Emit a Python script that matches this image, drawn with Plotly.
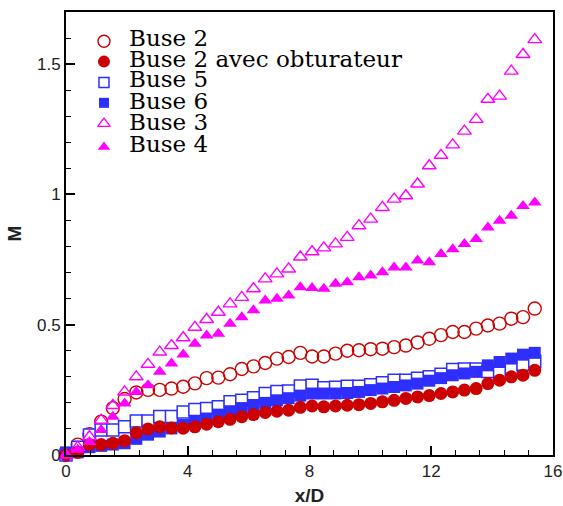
import plotly.graph_objects as go

# x/D stations (shared by all nozzles)
x_d = [0.0, 0.385, 0.77, 1.155, 1.54, 1.925, 2.31, 2.695, 3.08, 3.465, 3.85,
       4.235, 4.62, 5.005, 5.39, 5.775, 6.16, 6.545, 6.93, 7.315, 7.7,
       8.085, 8.47, 8.855, 9.24, 9.625, 10.01, 10.395, 10.78, 11.165, 11.55,
       11.935, 12.32, 12.705, 13.09, 13.475, 13.86, 14.245, 14.63, 15.015, 15.4]

buse2 = [0.0, 0.04, 0.08, 0.128, 0.18, 0.215, 0.24, 0.25, 0.25, 0.255, 0.262,
         0.275, 0.295, 0.297, 0.31, 0.33, 0.34, 0.353, 0.37, 0.376, 0.392,
         0.378, 0.378, 0.389, 0.4, 0.402, 0.406, 0.408, 0.414, 0.42, 0.432,
         0.446, 0.46, 0.472, 0.472, 0.485, 0.497, 0.504, 0.523, 0.529, 0.562]

buse2_obt = [0.0, 0.01, 0.04, 0.04, 0.045, 0.055, 0.085, 0.1, 0.108, 0.104, 0.103,
             0.108, 0.118, 0.128, 0.137, 0.147, 0.155, 0.163, 0.168, 0.172, 0.183,
             0.188, 0.185, 0.188, 0.191, 0.193, 0.198, 0.204, 0.21, 0.217, 0.223,
             0.228, 0.236, 0.242, 0.249, 0.255, 0.274, 0.287, 0.30, 0.306, 0.325]

buse5 = [0.0, 0.03, 0.077, 0.096, 0.096, 0.108, 0.13, 0.13, 0.148, 0.148, 0.165,
         0.175, 0.178, 0.185, 0.204, 0.21, 0.22, 0.236, 0.244, 0.246, 0.265,
         0.268, 0.258, 0.26, 0.264, 0.264, 0.27, 0.277, 0.287, 0.287, 0.295,
         0.30, 0.31, 0.328, 0.33, 0.33, 0.32, 0.315, 0.33, 0.348, 0.36]

buse6 = [0.01, 0.01, 0.03, 0.035, 0.04, 0.045, 0.062, 0.078, 0.09, 0.102, 0.115,
         0.128, 0.14, 0.155, 0.168, 0.18, 0.192, 0.2, 0.21, 0.218, 0.228,
         0.236, 0.236, 0.236, 0.238, 0.242, 0.249, 0.255, 0.261, 0.267, 0.274,
         0.285, 0.295, 0.306, 0.313, 0.319, 0.344, 0.357, 0.37, 0.385, 0.392]

buse3 = [0.0, 0.03, 0.07, 0.134, 0.19, 0.242, 0.30, 0.348, 0.395, 0.42, 0.45,
         0.49, 0.52, 0.548, 0.58, 0.605, 0.638, 0.676, 0.695, 0.714, 0.76,
         0.78, 0.795, 0.81, 0.835, 0.88, 0.905, 0.95, 0.982, 0.995, 1.04,
         1.11, 1.15, 1.19, 1.243, 1.288, 1.365, 1.377, 1.473, 1.537, 1.594]

buse4 = [0.0, 0.02, 0.05, 0.096, 0.147, 0.198, 0.242, 0.268, 0.319, 0.351, 0.386,
         0.427, 0.459, 0.465, 0.504, 0.529, 0.555, 0.593, 0.6, 0.612, 0.644,
         0.641, 0.638, 0.657, 0.663, 0.682, 0.689, 0.701, 0.72, 0.72, 0.746,
         0.74, 0.771, 0.79, 0.81, 0.829, 0.873, 0.899, 0.918, 0.956, 0.969]

legend_labels = ["Buse 2", "Buse 2 avec obturateur", "Buse 5", "Buse 6", "Buse 3", "Buse 4"]

RED = "#CC0000"
BLUE = "#2E2EFF"
MAG = "#FF00FF"

styles = {
    "Buse 2": dict(symbol="circle-open", size=13, color=RED, line=dict(color=RED, width=1.4)),
    "Buse 2 avec obturateur": dict(symbol="circle", size=13, color=RED, line=dict(width=0)),
    "Buse 5": dict(symbol="square", size=12, color="white", line=dict(color=BLUE, width=1.5)),
    "Buse 6": dict(symbol="square", size=12, color=BLUE, line=dict(width=0)),
    "Buse 3": dict(symbol="triangle-up-open", size=12, color=MAG, line=dict(color=MAG, width=1.4)),
    "Buse 4": dict(symbol="triangle-up", size=12, color=MAG, line=dict(width=0)),
}
series = {
    "Buse 2": buse2, "Buse 2 avec obturateur": buse2_obt, "Buse 5": buse5,
    "Buse 6": buse6, "Buse 3": buse3, "Buse 4": buse4,
}
draw_order = ["Buse 2", "Buse 5", "Buse 6", "Buse 2 avec obturateur", "Buse 3", "Buse 4"]

fig = go.Figure()
for name in draw_order:
    fig.add_trace(go.Scatter(x=x_d, y=series[name], mode="markers", name=name,
                             marker=styles[name], cliponaxis=False, showlegend=False))

# Manual legend (tight line spacing like the original)
leg_x_marker = 0.078
leg_x_text = 0.125
leg_rows_marker = [0.934, 0.888, 0.841, 0.795, 0.748, 0.695]
leg_rows_text = [0.942, 0.895, 0.848, 0.800, 0.751, 0.702]
leg_sizes = {"Buse 2": 12, "Buse 2 avec obturateur": 12, "Buse 5": 10,
             "Buse 6": 10, "Buse 3": 11, "Buse 4": 11}
for i, name in enumerate(legend_labels):
    st = dict(styles[name])
    st["size"] = leg_sizes[name]
    fig.add_trace(go.Scatter(x=[leg_x_marker], y=[leg_rows_marker[i]], mode="markers",
                             marker=st, xaxis="x2", yaxis="y2", showlegend=False,
                             cliponaxis=False, hoverinfo="skip"))
    fig.add_annotation(x=leg_x_text, y=leg_rows_text[i], xref="paper", yref="paper",
                       text=name, showarrow=False, xanchor="left", yanchor="middle",
                       font=dict(family="DejaVu Serif", size=23, color="black"))

axis_common = dict(showline=True, linecolor="black", linewidth=1.7, mirror=True,
                   showgrid=False, zeroline=False, ticks="inside", ticklen=9,
                   tickwidth=1.5, tickcolor="black", automargin=False,
                   tickfont=dict(family="Liberation Sans", size=17, color="#222"))

fig.update_layout(
    width=563, height=506,
    margin=dict(l=66, r=10, t=12, b=51, autoexpand=False),
    paper_bgcolor="white", plot_bgcolor="white",
    xaxis=dict(range=[0, 16], tick0=0, dtick=4,
               minor=dict(dtick=0.8, ticks="inside", ticklen=5, tickwidth=1.2, tickcolor="black"),
               title=dict(text="<b>x/D</b>", standoff=10,
                          font=dict(family="Liberation Sans", size=19, color="#222")),
               **axis_common),
    yaxis=dict(range=[0, 1.7], tick0=0, dtick=0.5,
               minor=dict(dtick=0.1, ticks="inside", ticklen=5, tickwidth=1.2, tickcolor="black"),
               title=dict(text="<b>M</b>", standoff=10,
                          font=dict(family="Liberation Sans", size=19, color="#222")),
               **axis_common),
    xaxis2=dict(overlaying="x", range=[0, 1], visible=False),
    yaxis2=dict(overlaying="y", range=[0, 1], visible=False),
)

fig.write_html("out.html", config={"displayModeBar": False},
               post_script="document.body.style.margin='0';document.body.style.overflow='hidden';")
